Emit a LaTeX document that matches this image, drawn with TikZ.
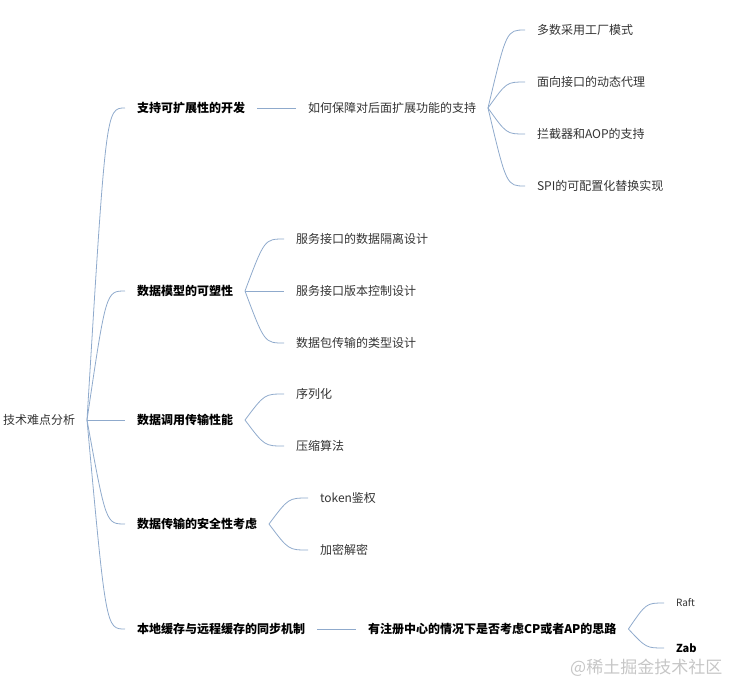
\documentclass[tikz,border=0pt]{standalone}
\usepackage{fontspec}
\setmainfont{Noto Sans CJK SC}
\usepackage{xcolor}
\usetikzlibrary{calc}
\definecolor{linkblue}{HTML}{8FAACC}
\definecolor{txtgray}{HTML}{333333}

\begin{document}
\begin{tikzpicture}[x=1pt,y=-1pt,
    topic/.style={anchor=west,inner sep=0pt,outer xsep=12pt,text=txtgray,font=\fontsize{12}{14}\selectfont},
    main/.style={topic,text=black,font=\fontsize{12}{14}\selectfont\bfseries},
    link/.style={draw=linkblue,line width=0.8pt,
        to path={.. controls ($(\tikztotarget)!0.5!(\tikztotarget -| \tikztostart)$) .. (\tikztotarget)}}]
    \useasboundingbox (0,0) rectangle (736,694);
    \node[topic] (root) at (-9,420) {技术难点分析};
    \node[main] (ext) at (125,108) {支持可扩展性的开发};
    \node[main] (model) at (125,291) {数据模型的可塑性};
    \node[main] (perf) at (125,420) {数据调用传输性能};
    \node[main] (safe) at (125,524) {数据传输的安全性考虑};
    \node[main] (cache) at (125,629) {本地缓存与远程缓存的同步机制};
    \node[topic] (keep) at (296,108) {如何保障对后面扩展功能的支持};
    \node[topic] (fact) at (525,30) {多数采用工厂模式};
    \node[topic] (proxy) at (525,82) {面向接口的动态代理};
    \node[topic] (aop) at (525,134) {拦截器和AOP的支持};
    \node[topic] (spi) at (525,186) {SPI的可配置化替换实现};
    \node[topic] (iso) at (284,239) {服务接口的数据隔离设计};
    \node[topic] (ver) at (284,291) {服务接口版本控制设计};
    \node[topic] (pkg) at (284,343) {数据包传输的类型设计};
    \node[topic] (ser) at (284,394) {序列化};
    \node[topic] (zip) at (284,446) {压缩算法};
    \node[topic] (tok) at (308,498) {token鉴权};
    \node[topic] (enc) at (308,550) {加密解密};
    \node[main] (cpap) at (356,629) {有注册中心的情况下是否考虑CP或者AP的思路};
    \node[topic,font=\fontsize{10}{12}\selectfont] (raft) at (664,603) {Raft};
    \node[main,font=\fontsize{11}{13}\selectfont\bfseries] (zab) at (664,648) {Zab};
    \node[anchor=west,inner sep=0pt,text=gray!45,font=\fontsize{17}{20}\selectfont] (mark) at (570,668) {@稀土掘金技术社区};

    \draw[link] (root.east) to (ext.west);
    \draw[link] (root.east) to (model.west);
    \draw[link] (root.east) to (perf.west);
    \draw[link] (root.east) to (safe.west);
    \draw[link] (root.east) to (cache.west);
    \draw[link] (ext.east) to (keep.west);
    \draw[link] (keep.east) to (fact.west);
    \draw[link] (keep.east) to (proxy.west);
    \draw[link] (keep.east) to (aop.west);
    \draw[link] (keep.east) to (spi.west);
    \draw[link] (model.east) to (iso.west);
    \draw[link] (model.east) to (ver.west);
    \draw[link] (model.east) to (pkg.west);
    \draw[link] (perf.east) to (ser.west);
    \draw[link] (perf.east) to (zip.west);
    \draw[link] (safe.east) to (tok.west);
    \draw[link] (safe.east) to (enc.west);
    \draw[link] (cache.east) to (cpap.west);
    \draw[link] (cpap.east) to (raft.west);
    \draw[link] (cpap.east) to (zab.west);
\end{tikzpicture}
\end{document}
